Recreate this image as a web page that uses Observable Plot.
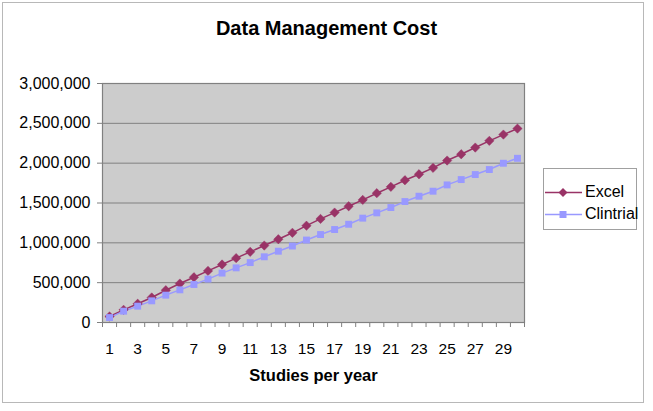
<!DOCTYPE html>
<html>
<head>
<meta charset="utf-8">
<script src="https://cdn.jsdelivr.net/npm/d3@7"></script>
<script src="https://cdn.jsdelivr.net/npm/@observablehq/plot@0.6"></script>
<style>
  html, body { margin: 0; padding: 0; background: #fff; }
  #wrap { position: relative; width: 653px; height: 411px; font-family: "Liberation Sans", Arial, sans-serif; overflow: hidden; }
  #border { position: absolute; left: 2px; top: 2px; width: 642px; height: 401px; border: 1px solid #b8b8b8; box-sizing: border-box; pointer-events: none; }
  #title { position: absolute; left: 0; width: 653px; top: 17px; text-align: center; font-weight: bold; font-size: 20px; color: #000; }
  #legend { position: absolute; left: 543px; top: 168px; width: 94px; height: 62px; border: 1px solid #a0a0a0; box-sizing: border-box; background: #fff; font-size: 16px; }
  .item { position: absolute; left: 0; height: 20px; display: flex; align-items: center; }
  .item svg { margin-left: 1px; }
  .item span { margin-left: 3px; }
  #chart { position: absolute; left: 0; top: 0; }
</style>
</head>
<body>
<div id="wrap">
  <div id="chart"></div>
  <div id="title"></div>
  <div id="legend"></div>
  <div id="border"></div>
</div>
<script>
const title = "Data Management Cost";
const xTitle = "Studies per year";
const seriesNames = ["Excel", "Clintrial"];
const seriesColors = ["#993366", "#9999FF"];
const studies = [1,2,3,4,5,6,7,8,9,10,11,12,13,14,15,16,17,18,19,20,21,22,23,24,25,26,27,28,29,30];
const excel = [75000,159000,235000,314000,405000,489000,568000,648000,728000,808000,887000,966000,1045000,1126000,1215000,1300000,1380000,1459000,1539000,1623000,1703000,1786000,1861000,1941000,2033000,2112000,2196000,2280000,2359000,2434000];
const clintrial = [62000,142000,205000,272000,343000,410000,477000,545000,620000,686000,752000,825000,895000,960000,1035000,1104000,1167000,1233000,1310000,1376000,1443000,1518000,1585000,1648000,1727000,1794000,1857000,1920000,1999000,2061000];
const yTicks = [0,500000,1000000,1500000,2000000,2500000,3000000];
const xTickLabels = [1,3,5,7,9,11,13,15,17,19,21,23,25,27,29];

const excelData = studies.map((s, i) => ({x: s, y: excel[i]}));
const clinData = studies.map((s, i) => ({x: s, y: clintrial[i]}));
const boundaries = d3.range(studies.length + 1).map(i => i + 0.5);

document.getElementById("title").textContent = title;

const chart = Plot.plot({
  width: 653,
  height: 411,
  marginLeft: 102,
  marginRight: 129,
  marginTop: 83,
  marginBottom: 89,
  style: {fontFamily: "'Liberation Sans', Arial, sans-serif", color: "#000", background: "transparent"},
  x: {domain: [0.5, studies.length + 0.5]},
  y: {domain: [0, 3000000]},
  marks: [
    Plot.frame({fill: "#cccccc", stroke: "none"}),
    Plot.gridY(yTicks, {stroke: "#808080", strokeOpacity: 1, strokeWidth: 1}),
    Plot.frame({stroke: "#808080", strokeWidth: 1.2}),
    Plot.axisY(yTicks, {tickSize: 5, tickPadding: 7, tickFormat: d3.format(","), fontSize: 16, label: null, stroke: "#808080"}),
    Plot.axisX(boundaries, {tickSize: 5, tickFormat: () => "", label: null, stroke: "#808080"}),
    Plot.axisX(xTickLabels, {tickSize: 0, tickPadding: 20, fontSize: 15.5, label: null}),
    Plot.text([xTitle], {frameAnchor: "bottom", dy: 58, fontWeight: "bold", fontSize: 16.5, text: d => d}),
    Plot.line(excelData, {x: "x", y: "y", stroke: seriesColors[0], strokeWidth: 1.5}),
    Plot.line(clinData, {x: "x", y: "y", stroke: seriesColors[1], strokeWidth: 1.5}),
    Plot.dot(excelData, {x: "x", y: "y", symbol: "diamond2", r: 4.2, fill: seriesColors[0], stroke: seriesColors[0], strokeWidth: 0.5}),
    Plot.dot(clinData, {x: "x", y: "y", symbol: "square", r: 3.9, fill: seriesColors[1], stroke: "none"})
  ]
});
document.getElementById("chart").appendChild(chart);

// legend
const legend = document.getElementById("legend");
const symbols = ["diamond", "square"];
seriesNames.forEach((name, i) => {
  const item = document.createElement("div");
  item.className = "item";
  item.style.top = (i === 0 ? 13 : 35) + "px";
  const marker = symbols[i] === "diamond"
    ? `<polygon points="18,4 22.5,8.5 18,13 13.5,8.5" fill="${seriesColors[i]}"/>`
    : `<rect x="14.5" y="5" width="7" height="7" fill="${seriesColors[i]}"/>`;
  item.innerHTML = `<svg width="37" height="17"><line x1="0" y1="8.5" x2="37" y2="8.5" stroke="${seriesColors[i]}" stroke-width="1.5"/>${marker}</svg><span>${name}</span>`;
  legend.appendChild(item);
});
</script>
</body>
</html>
